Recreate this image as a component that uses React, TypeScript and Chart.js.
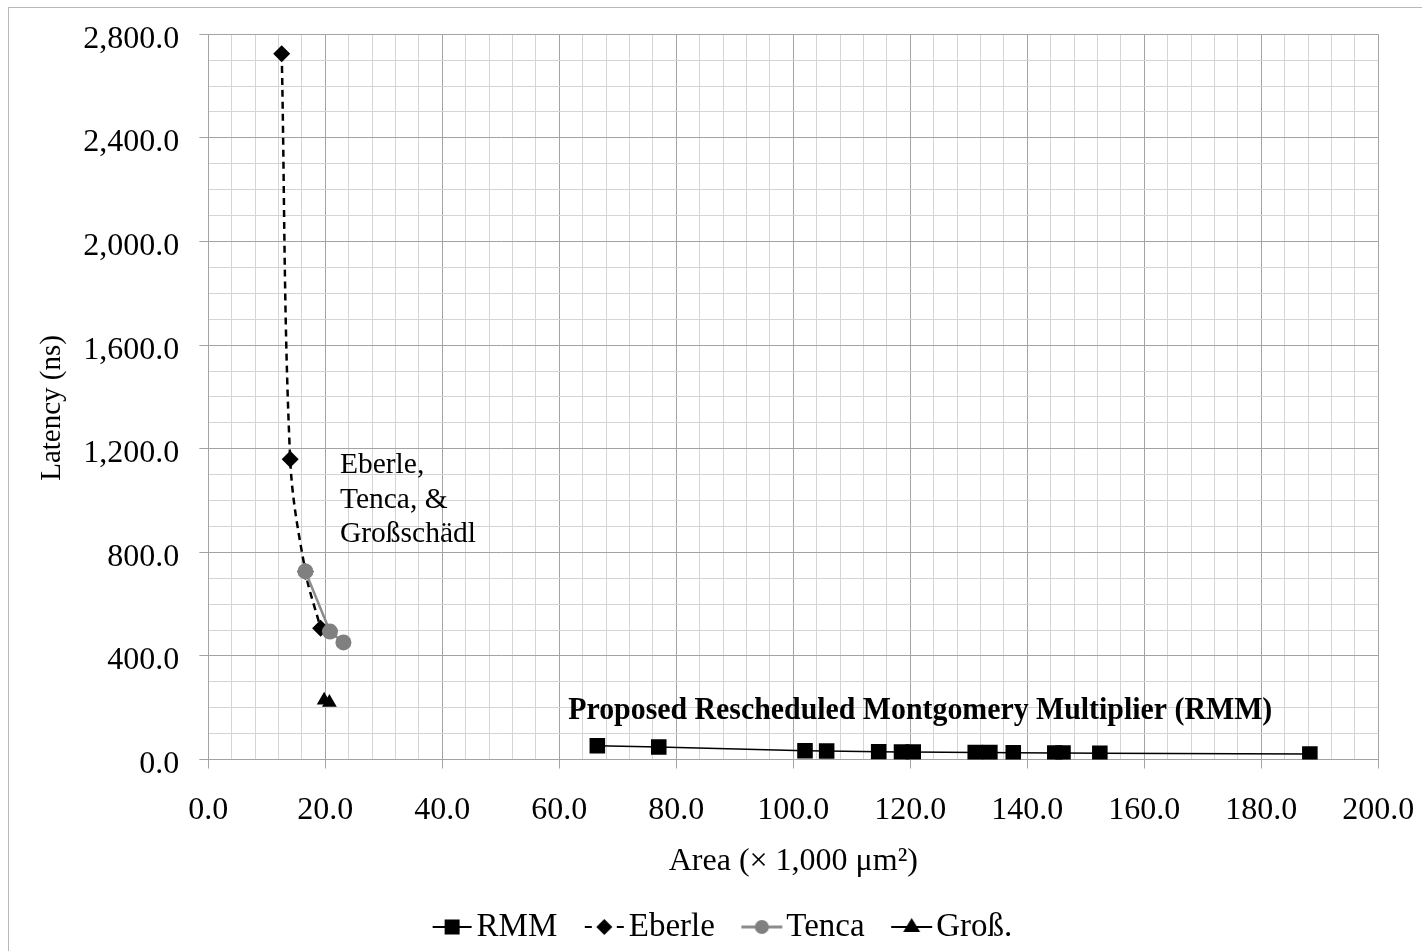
import React, { useEffect, useRef } from 'react';
import { Chart, registerables } from 'chart.js';

Chart.register(...registerables);

const FONT = '"Liberation Serif", "Times New Roman", serif';

// ---- data (area in 1,000 µm², latency in ns) ----
const seriesNames = ['RMM', 'Eberle', 'Tenca', 'Groß.'];

const rmmArea = [66.5, 77.0, 102.0, 105.7, 114.6, 118.5, 120.5, 131.1, 133.6, 137.6, 144.7, 146.1, 152.4, 188.3];
const rmmLatency = [53, 48, 34, 33, 30, 29, 29, 27, 27, 26, 25, 25, 24, 21];

const eberleArea = [12.55, 14.0, 16.6, 19.2];
const eberleLatency = [2725, 1159, 726, 507];

const tencaArea = [16.6, 20.8, 23.1];
const tencaLatency = [726, 494, 452];

const grossArea = [19.8, 20.7];
const grossLatency = [229, 220];

// ---- axes ----
const X_MIN = 0;
const X_MAX = 200;
const X_MINOR_STEP = 4;
const xMajorTicks = [0, 20, 40, 60, 80, 100, 120, 140, 160, 180, 200];

const Y_MIN = 0;
const Y_MAX = 2800;
const Y_MINOR_STEP = 100;
const yMajorTicks = [0, 400, 800, 1200, 1600, 2000, 2400, 2800];

const xTitle = 'Area (× 1,000 μm²)';
const yTitle = 'Latency (ns)';

// ---- annotations ----
const noteLines = ['Eberle,', 'Tenca, &', 'Großschädl'];
const noteAt = { x: 22.5, y: 1106 };
const rmmNote = 'Proposed Rescheduled Montgomery Multiplier (RMM)';
const rmmNoteAt = { x: 121.7, y: 156 };

function fmt(v: number): string {
  const s = v.toFixed(1);
  const [i, d] = s.split('.');
  return i.replace(/\B(?=(\d{3})+(?!\d))/g, ',') + '.' + d;
}

const pts = (xs: number[], ys: number[]) => xs.map((x, i) => ({ x, y: ys[i] }));

const MAJOR = '#a3a3a3';
const MINOR = '#d4d4d4';

const LEGEND_FONT = 33;
const LEGEND_BOX = 44;
const LEGEND_PAD = 11;
const ICON_W = LEGEND_BOX + LEGEND_FONT - 6;
const ICON_CONTENT = 43;

function legendIcon(kind: number): HTMLCanvasElement {
  const c = document.createElement('canvas');
  c.width = ICON_W;
  c.height = 26;
  const g = c.getContext('2d')!;
  const x1 = ICON_W, x0 = ICON_W - ICON_CONTENT, cx = ICON_W - ICON_CONTENT / 2, cy = 13;
  g.lineCap = 'butt';
  if (kind === 0) {
    g.strokeStyle = '#000'; g.lineWidth = 2;
    g.beginPath(); g.moveTo(x0 + 2, cy); g.lineTo(x1 - 2, cy); g.stroke();
    g.fillStyle = '#000'; g.fillRect(cx - 7.5, cy - 7.5, 15, 15);
  } else if (kind === 1) {
    g.strokeStyle = '#000'; g.lineWidth = 2;
    g.beginPath(); g.moveTo(x0 + 2, cy); g.lineTo(x0 + 9, cy); g.moveTo(x1 - 9, cy); g.lineTo(x1 - 2, cy); g.stroke();
    g.fillStyle = '#000';
    g.beginPath(); g.moveTo(cx - 8, cy); g.lineTo(cx, cy - 8); g.lineTo(cx + 8, cy); g.lineTo(cx, cy + 8); g.closePath(); g.fill();
  } else if (kind === 2) {
    g.strokeStyle = '#8c8c8c'; g.lineWidth = 3;
    g.beginPath(); g.moveTo(x0 + 1, cy); g.lineTo(x1 - 1, cy); g.stroke();
    g.fillStyle = '#808080';
    g.beginPath(); g.arc(cx, cy, 7, 0, Math.PI * 2); g.fill();
  } else {
    g.strokeStyle = '#000'; g.lineWidth = 2;
    g.beginPath(); g.moveTo(x0 + 1, cy); g.lineTo(x1 - 1, cy); g.stroke();
    g.fillStyle = '#000';
    g.beginPath(); g.moveTo(cx, cy - 9); g.lineTo(cx + 8.5, cy + 5); g.lineTo(cx - 8.5, cy + 5); g.closePath(); g.fill();
  }
  return c;
}

const framePlugin = {
  id: 'frame',
  beforeDraw(chart: any) {
    const { ctx, width, height } = chart;
    ctx.save();
    ctx.strokeStyle = '#b8b8b8';
    ctx.lineWidth = 1;
    ctx.strokeRect(0.5, 0.5, width + 20, height + 20);
    ctx.restore();
  },
};

const LEGEND_SHIFT = 21;
const legendShiftPlugin = {
  id: 'legendShift',
  afterLayout(chart: any) {
    if (chart.legend) {
      chart.legend.left += LEGEND_SHIFT;
      chart.legend.right += LEGEND_SHIFT;
    }
  },
};

const annotationPlugin = {
  id: 'notes',
  afterDatasetsDraw(chart: any) {
    const { ctx, scales, chartArea } = chart;
    const xs = scales.x, ys = scales.y;
    ctx.save();
    ctx.fillStyle = '#000';
    ctx.textBaseline = 'alphabetic';
    ctx.textAlign = 'left';
    ctx.font = `29.5px ${FONT}`;
    const lx = xs.getPixelForValue(noteAt.x);
    const ly = ys.getPixelForValue(noteAt.y);
    noteLines.forEach((t, i) => ctx.fillText(t, lx, ly + i * 34.5));
    ctx.font = `bold 31px ${FONT}`;
    ctx.textAlign = 'center';
    ctx.fillText(rmmNote, xs.getPixelForValue(rmmNoteAt.x), ys.getPixelForValue(rmmNoteAt.y), 704);
    ctx.restore();

    // y-axis title (drawn here so it can sit slightly below the plot centre, as in the original)
    ctx.save();
    ctx.fillStyle = '#000';
    ctx.font = `29px ${FONT}`;
    ctx.textAlign = 'center';
    ctx.textBaseline = 'middle';
    ctx.translate(44.4, (chartArea.top + chartArea.bottom) / 2 + 11);
    ctx.rotate(-Math.PI / 2);
    ctx.fillText(yTitle, 0, 0);
    ctx.restore();
  },
};

export default function App() {
  const ref = useRef<HTMLCanvasElement>(null);

  useEffect(() => {
    const icons = [0, 1, 2, 3].map(legendIcon);
    const chart = new Chart(ref.current!, {
      type: 'scatter',
      data: {
        datasets: [
          {
            label: seriesNames[0],
            data: pts(rmmArea, rmmLatency),
            showLine: true,
            borderColor: '#000',
            borderWidth: 1.5,
            backgroundColor: '#000',
            pointStyle: 'rect',
            pointRadius: 11,
            pointBorderWidth: 0,
            order: 0,
          },
          {
            label: seriesNames[1],
            data: pts(eberleArea, eberleLatency),
            showLine: true,
            borderColor: '#000',
            borderWidth: 2.5,
            borderDash: [7, 5],
            tension: 0.35,
            backgroundColor: '#000',
            pointStyle: 'rectRot',
            pointRadius: 8.5,
            pointBorderWidth: 0,
            order: 2,
          },
          {
            label: seriesNames[2],
            data: pts(tencaArea, tencaLatency),
            showLine: true,
            borderColor: '#8c8c8c',
            borderWidth: 2.5,
            backgroundColor: '#808080',
            pointStyle: 'circle',
            pointRadius: 8,
            pointBorderWidth: 0,
            order: 1,
          },
          {
            label: seriesNames[3],
            data: pts(grossArea, grossLatency),
            showLine: true,
            borderColor: '#000',
            borderWidth: 1.5,
            backgroundColor: '#000',
            pointStyle: 'triangle',
            pointRadius: 8.5,
            pointBorderWidth: 0,
            order: 0,
          },
        ] as any,
      },
      options: {
        animation: false,
        responsive: false,
        events: [],
        layout: { padding: { left: 0, top: 27.3, right: 43.7, bottom: -2.5 } },
        plugins: {
          tooltip: { enabled: false },
          legend: {
            position: 'bottom',
            labels: {
              usePointStyle: true,
              pointStyleWidth: LEGEND_BOX,
              padding: LEGEND_PAD,
              color: '#000',
              font: { family: FONT, size: LEGEND_FONT },
              generateLabels: (chart: any) =>
                chart.data.datasets.map((ds: any, i: number) => ({
                  text: ds.label,
                  datasetIndex: i,
                  pointStyle: icons[i],
                  fillStyle: 'rgba(0,0,0,0)',
                  strokeStyle: 'rgba(0,0,0,0)',
                  lineWidth: 0,
                  hidden: false,
                  fontColor: '#000',
                })),
            },
          },
        },
        scales: {
          x: {
            type: 'linear',
            min: X_MIN,
            max: X_MAX,
            afterFit: (s: any) => {
              s.height = 140;
              s.paddingLeft = 0;
              s.paddingRight = 0;
            },
            ticks: {
              stepSize: X_MINOR_STEP,
              autoSkip: false,
              maxRotation: 0,
              padding: 23,
              color: '#000',
              font: { family: FONT, size: 32 },
              callback: (v: any) => (xMajorTicks.includes(Number(v)) ? fmt(Number(v)) : ''),
            },
            grid: {
              color: (c: any) => (xMajorTicks.includes(c.tick?.value) ? MAJOR : MINOR),
              tickColor: (c: any) => (xMajorTicks.includes(c.tick?.value) ? MAJOR : 'rgba(0,0,0,0)'),
              tickLength: 9,
              lineWidth: 1,
            },
            border: { color: MAJOR, width: 1 },
            title: {
              display: true,
              text: xTitle,
              color: '#000',
              font: { family: FONT, size: 32 },
              padding: { top: 0, bottom: 18.8 },
            },
          },
          y: {
            type: 'linear',
            min: Y_MIN,
            max: Y_MAX,
            afterFit: (s: any) => {
              s.width = 200.3;
              s.paddingTop = 0;
              s.paddingBottom = 0;
            },
            ticks: {
              stepSize: Y_MINOR_STEP,
              autoSkip: false,
              padding: 20,
              labelOffset: 5,
              color: '#000',
              font: { family: FONT, size: 32 },
              callback: (v: any) => (yMajorTicks.includes(Number(v)) ? fmt(Number(v)) : ''),
            },
            grid: {
              color: (c: any) => (yMajorTicks.includes(c.tick?.value) ? MAJOR : MINOR),
              tickColor: (c: any) => (yMajorTicks.includes(c.tick?.value) ? MAJOR : 'rgba(0,0,0,0)'),
              tickLength: 9,
              lineWidth: 1,
            },
            border: { color: MAJOR, width: 1 },
            title: { display: false, text: yTitle },
          },
        },
      } as any,
      plugins: [framePlugin, legendShiftPlugin, annotationPlugin],
    });
    return () => chart.destroy();
  }, []);

  return (
    <div style={{ position: 'fixed', left: 8, top: 7, width: 1414, height: 944 }}>
      <canvas ref={ref} width={1414} height={944} style={{ display: 'block', width: 1414, height: 944 }} />
    </div>
  );
}
